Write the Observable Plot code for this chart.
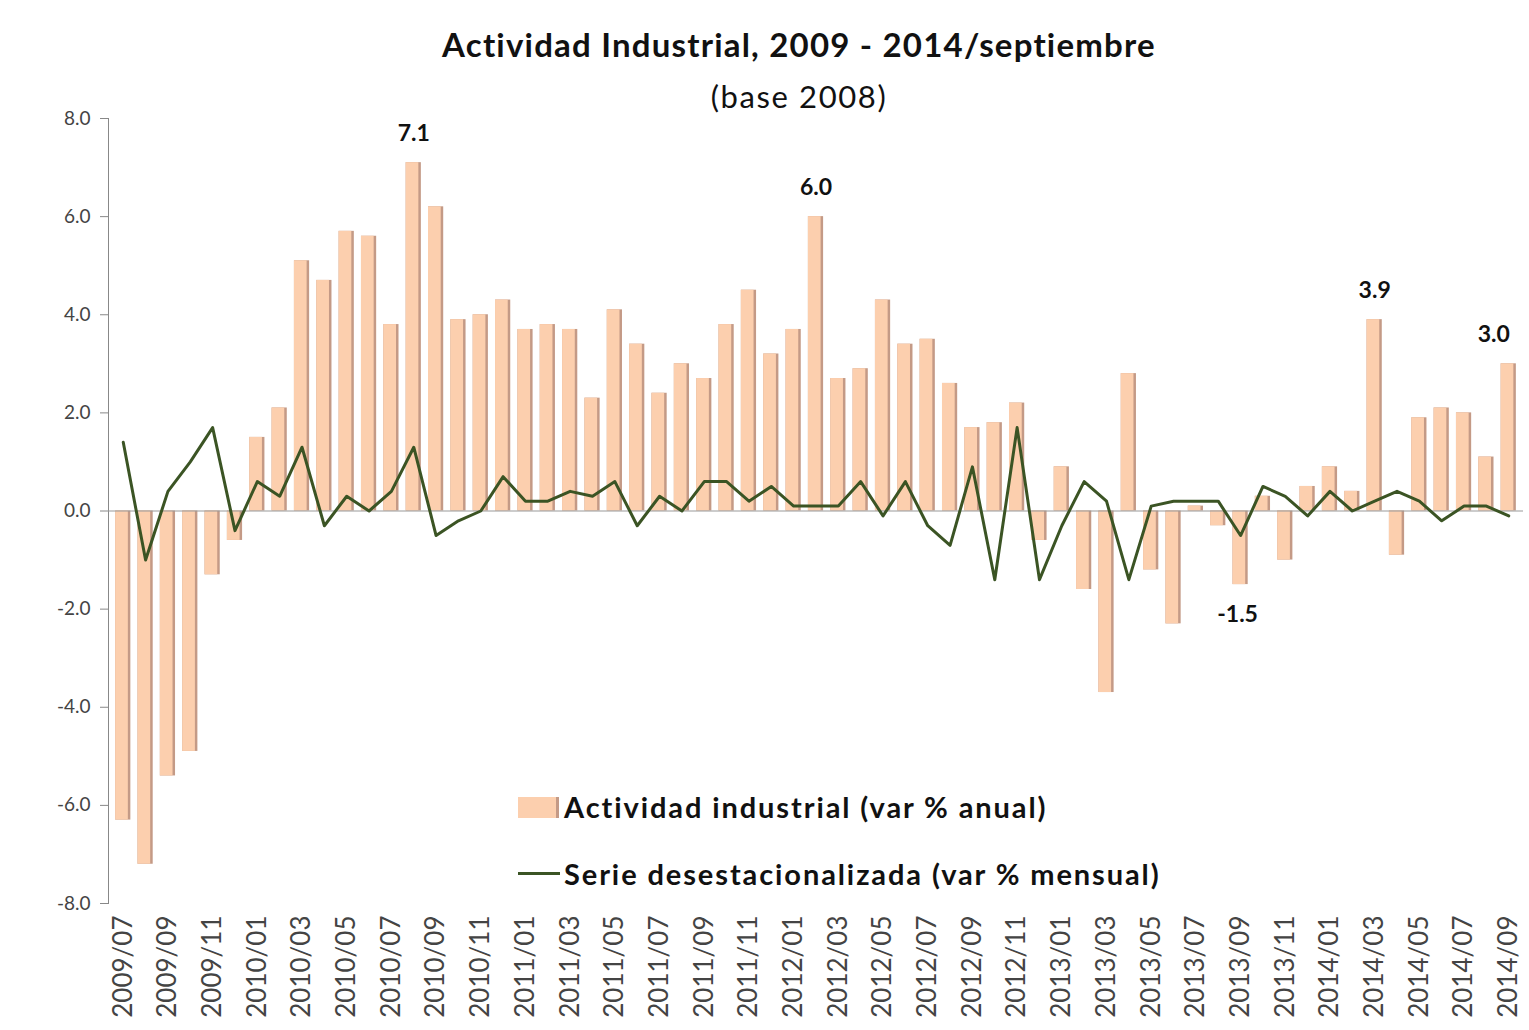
<!DOCTYPE html>
<html><head><meta charset="utf-8">
<script src="https://cdn.jsdelivr.net/npm/d3@7"></script>
<script src="https://cdn.jsdelivr.net/npm/@observablehq/plot@0.6"></script>
<style>
body{margin:0;background:#fff;font-family:Lato,"Open Sans",sans-serif;}
#wrap{position:relative;width:1529px;height:1030px;overflow:hidden;}
#title{position:absolute;left:0;width:1598px;top:24px;text-align:center;font-weight:bold;font-size:33px;letter-spacing:1.2px;color:#111;line-height:40px;}
#sub{position:absolute;left:0;width:1598px;top:78px;text-align:center;font-size:31px;letter-spacing:1.6px;color:#111;line-height:36px;}
#chart{position:absolute;left:0;top:105px;}
.leg{position:absolute;font-weight:bold;font-size:29px;letter-spacing:1.9px;color:#111;line-height:34px;white-space:nowrap;}
.sw1{position:absolute;left:518px;top:797px;width:38px;height:21px;background:#FCCFAE;border-right:3px solid #C49A86;}
.sw2{position:absolute;left:518px;top:872px;width:42px;height:0;border-top:3px solid #3B5424;}
</style></head>
<body>
<div id="wrap">
  <div id="title">Actividad Industrial, 2009 - 2014/septiembre</div>
  <div id="sub">(base 2008)</div>
  <div id="chart"></div>
  <div class="sw1"></div>
  <div class="leg" style="left:564px;top:790px;">Actividad industrial (var % anual)</div>
  <div class="sw2"></div>
  <div class="leg" style="left:564px;top:857px;">Serie desestacionalizada (var % mensual)</div>
</div>
<script>
const months = [
 "2009/07","2009/08","2009/09","2009/10","2009/11","2009/12",
 "2010/01","2010/02","2010/03","2010/04","2010/05","2010/06","2010/07","2010/08","2010/09","2010/10","2010/11","2010/12",
 "2011/01","2011/02","2011/03","2011/04","2011/05","2011/06","2011/07","2011/08","2011/09","2011/10","2011/11","2011/12",
 "2012/01","2012/02","2012/03","2012/04","2012/05","2012/06","2012/07","2012/08","2012/09","2012/10","2012/11","2012/12",
 "2013/01","2013/02","2013/03","2013/04","2013/05","2013/06","2013/07","2013/08","2013/09","2013/10","2013/11","2013/12",
 "2014/01","2014/02","2014/03","2014/04","2014/05","2014/06","2014/07","2014/08","2014/09"
];
const anual = [
 -6.3,-7.2,-5.4,-4.9,-1.3,-0.6,
 1.5,2.1,5.1,4.7,5.7,5.6,3.8,7.1,6.2,3.9,4.0,4.3,
 3.7,3.8,3.7,2.3,4.1,3.4,2.4,3.0,2.7,3.8,4.5,3.2,
 3.7,6.0,2.7,2.9,4.3,3.4,3.5,2.6,1.7,1.8,2.2,-0.6,
 0.9,-1.6,-3.7,2.8,-1.2,-2.3,0.1,-0.3,-1.5,0.3,-1.0,0.5,
 0.9,0.4,3.9,-0.9,1.9,2.1,2.0,1.1,3.0
];
const mensual = [
 1.4,-1.0,0.4,1.0,1.7,-0.4,
 0.6,0.3,1.3,-0.3,0.3,0.0,0.4,1.3,-0.5,-0.2,0.0,0.7,
 0.2,0.2,0.4,0.3,0.6,-0.3,0.3,0.0,0.6,0.6,0.2,0.5,
 0.1,0.1,0.1,0.6,-0.1,0.6,-0.3,-0.7,0.9,-1.4,1.7,-1.4,
 -0.3,0.6,0.2,-1.4,0.1,0.2,0.2,0.2,-0.5,0.5,0.3,-0.1,
 0.4,0.0,0.2,0.4,0.2,-0.2,0.1,0.1,-0.1
];
const xTickLabels = [
 "2009/07","2009/09","2009/11","2010/01","2010/03","2010/05","2010/07","2010/09","2010/11",
 "2011/01","2011/03","2011/05","2011/07","2011/09","2011/11","2012/01","2012/03","2012/05",
 "2012/07","2012/09","2012/11","2013/01","2013/03","2013/05","2013/07","2013/09","2013/11",
 "2014/01","2014/03","2014/05","2014/07","2014/09"
];
const yTicks = [-8,-6,-4,-2,0,2,4,6,8];
const labeledMonths = ["2010/08","2012/02","2013/09","2014/03","2014/09"];

const data = months.map((m,i)=>({month:m, anual:anual[i], mensual:mensual[i]}));
const labeled = data.filter(d=>labeledMonths.includes(d.month));
const lastMonth = months[months.length-1];

const chart = Plot.plot({
  width:1529, height:925,
  marginTop:13, marginBottom:127, marginLeft:108, marginRight:6,
  style:{fontFamily:"Lato, 'Open Sans', sans-serif", fontSize:"19px", color:"#444", background:"transparent", overflow:"visible"},
  x:{type:"band", domain:months, padding:0.32, round:false, label:null},
  y:{domain:[-8,8], label:null},
  marks:[
    Plot.axisY({ticks:yTicks, tickFormat:d=>d.toFixed(1), tickSize:8, tickPadding:10, stroke:"#888", fontSize:19, fill:"#444"}),
    Plot.frame({anchor:"left", stroke:"#888"}),
    Plot.axisX({ticks:xTickLabels, tickRotate:-90, tickSize:0, tickPadding:12, fontSize:26, fill:"#444", style:"letter-spacing:4.5px"}),
    Plot.barY(data, {x:"month", y:"anual", fill:"#C49A86"}),
    Plot.barY(data, {x:"month", y:"anual", fill:"#FCCFAE", insetRight:2.5}),
    Plot.ruleY([0], {stroke:"#999", strokeWidth:1.2}),
    Plot.lineY(data, {x:"month", y:"mensual", stroke:"#3B5424", strokeWidth:3}),
    Plot.text(labeled.filter(d=>d.anual>0 && d.month!==lastMonth), {x:"month", y:"anual", text:d=>d.anual.toFixed(1), dy:-29, fontWeight:"bold", fontSize:23, fill:"#111"}),
    Plot.text(labeled.filter(d=>d.month===lastMonth), {x:"month", y:"anual", text:d=>d.anual.toFixed(1), dy:-29, dx:-15, fontWeight:"bold", fontSize:23, fill:"#111"}),
    Plot.text(labeled.filter(d=>d.anual<0), {x:"month", y:"anual", text:d=>d.anual.toFixed(1), dy:30, dx:-3, fontWeight:"bold", fontSize:23, fill:"#111"})
  ]
});
document.getElementById("chart").appendChild(chart);
</script>
</body></html>
